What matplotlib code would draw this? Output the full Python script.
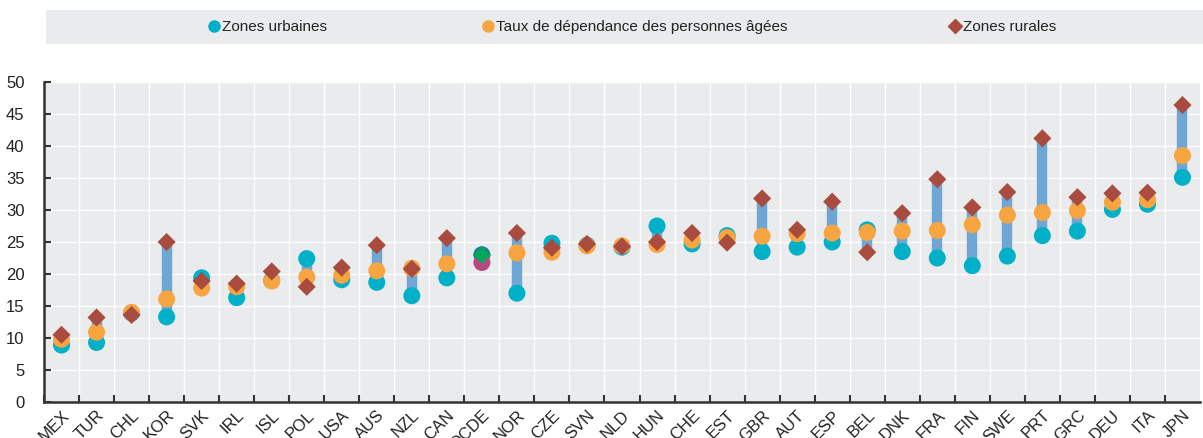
import numpy as np
import matplotlib.pyplot as plt
from matplotlib.lines import Line2D
from matplotlib.patches import Rectangle

countries = ["MEX", "TUR", "CHL", "KOR", "SVK", "IRL", "ISL", "POL", "USA", "AUS", "NZL",
             "CAN", "OCDE", "NOR", "CZE", "SVN", "NLD", "HUN", "CHE", "EST", "GBR", "AUT",
             "ESP", "BEL", "DNK", "FRA", "FIN", "SWE", "PRT", "GRC", "DEU", "ITA", "JPN"]
urban = [8.9, 9.3, 13.9, 13.3, 19.4, 16.3, 19.0, 22.4, 19.1, 18.7, 16.6,
         19.4, 23.0, 17.0, 24.8, 24.5, 24.2, 27.5, 24.7, 26.0, 23.5, 24.2,
         25.0, 26.9, 23.5, 22.5, 21.3, 22.8, 26.0, 26.7, 30.1, 30.9, 35.1]
elderly = [9.8, 10.9, 14.0, 16.1, 17.8, 18.0, 18.9, 19.5, 19.8, 20.5, 20.9,
           21.6, 21.8, 23.3, 23.4, 24.4, 24.4, 24.6, 25.3, 25.7, 25.9, 26.3,
           26.4, 26.5, 26.7, 26.8, 27.7, 29.2, 29.6, 29.9, 31.2, 31.6, 38.5]
rural = [10.5, 13.2, 13.6, 25.0, 18.9, 18.5, 20.4, 18.0, 21.0, 24.5, 20.8,
         25.6, 23.0, 26.4, 24.1, 24.7, 24.3, 25.0, 26.4, 24.9, 31.8, 26.9,
         31.3, 23.4, 29.5, 34.8, 30.4, 32.8, 41.2, 32.0, 32.6, 32.7, 46.4]

c_urban = "#00AFC8"
c_old = "#F7A541"
c_rural = "#A94B3F"
c_bar = "#6FA7D4"
bg = "#E9EBED"

plt.rcParams['font.family'] = ['Liberation Sans Narrow', 'Liberation Sans', 'DejaVu Sans']

fig = plt.figure(figsize=(12.03, 4.38), dpi=100)
ax = fig.add_axes([44 / 1203, 1 - 402 / 438, 1156 / 1203, 320 / 438])
ax.set_facecolor(bg)

x = np.arange(len(countries))
lo = np.minimum(urban, rural)
hi = np.maximum(urban, rural)
ax.vlines(x, lo, hi, color=c_bar, linewidth=7.5, zorder=2)

# OCDE average uses its own colours
ocde = countries.index("OCDE")
cu = [c_urban] * len(x)
co = [c_old] * len(x)
cr = [c_rural] * len(x)
cu[ocde] = "#1F6DB5"
co[ocde] = "#B8497E"
cr[ocde] = "#00A65A"

ax.scatter(x, urban, s=150, c=cu, marker='o', zorder=3, linewidths=0)
ax.scatter(x, elderly, s=150, c=co, marker='o', zorder=4, linewidths=0)
ax.scatter(x, rural, s=85, c=cr, marker='D', zorder=5, linewidths=0)

ax.set_xlim(-0.5, len(x) - 0.5)
ax.set_ylim(0, 50)
ax.set_yticks(np.arange(0, 51, 5))
ax.set_xticks(x - 0.5, minor=False)
ax.set_xticks(x, minor=True)
ax.set_xticklabels([])
ax.set_xticklabels(countries, minor=True, rotation=45, ha='right', va='top',
                   rotation_mode='anchor', fontsize=12, color="#222222")
ax.tick_params(axis='x', which='minor', length=0, pad=4)
ax.tick_params(axis='x', which='major', direction='in', length=5, width=1.5, color="#333333")
ax.tick_params(axis='y', direction='in', length=5, width=1.5, color="#333333",
               labelsize=12, labelcolor="#222222", pad=14)
ax.grid(True, which='major', color='white', linewidth=1)
ax.set_axisbelow(True)
for s in ['top', 'right']:
    ax.spines[s].set_visible(False)
for s in ['left', 'bottom']:
    ax.spines[s].set_color("#333333")
    ax.spines[s].set_linewidth(1.8)

# legend strip
fig.patches.append(Rectangle((46 / 1203, 1 - 44 / 438), 1157 / 1203, 34 / 438,
                             transform=fig.transFigure, facecolor=bg, edgecolor='none'))
items = [("Zones urbaines", 'o', c_urban, 199),
         ("Taux de dépendance des personnes âgées", 'o', c_old, 473),
         ("Zones rurales", 'D', c_rural, 940)]
for label, m, c, px in items:
    h = Line2D([], [], linestyle='none', marker=m, color=c, markersize=8 if m == 'o' else 7)
    fig.legend([h], [label], loc='center left', bbox_to_anchor=(px / 1203, 1 - 27 / 438),
               frameon=False, handletextpad=0.0, handlelength=1.0, borderpad=0,
               fontsize=11, labelcolor="#222222")

fig.savefig("out.png", dpi=100)
